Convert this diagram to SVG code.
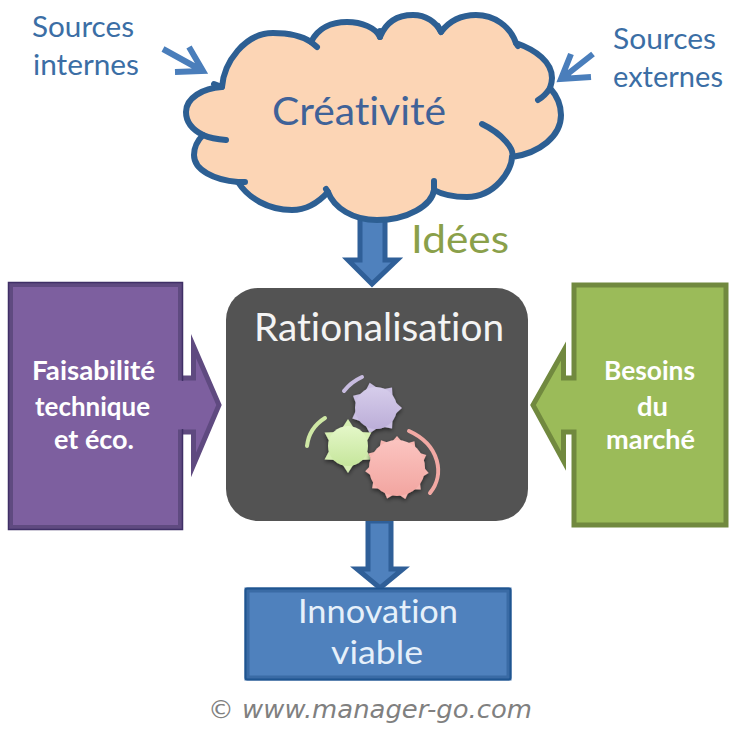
<svg xmlns="http://www.w3.org/2000/svg" xmlns:xlink="http://www.w3.org/1999/xlink" width="736" height="734" viewBox="0 0 736 734">
<style>
text{font-family:Lato,"Liberation Sans",sans-serif;text-anchor:start;font-variant-ligatures:none}
.src{font-size:28px;fill:#3b6ea5}
.side{font-size:27px;font-weight:700;fill:#fff}
.big{font-size:39px}
.inn{font-size:32px;fill:#e6f0fa}
.arr{fill:#4f81bd;stroke:#2f5f98;stroke-width:5;stroke-linejoin:miter}
.thin{fill:none;stroke:#4a7ebb;stroke-width:6}
.cl{fill:none;stroke:#2d5f93;stroke-width:6;stroke-linecap:round}
.arc{fill:none;stroke-width:4;stroke-linecap:round}
</style>
<defs>
<filter id="soft" x="-20%" y="-20%" width="140%" height="140%"><feGaussianBlur stdDeviation="0.6"/></filter>
<filter id="shadow" x="-20%" y="-20%" width="150%" height="150%"><feGaussianBlur in="SourceAlpha" stdDeviation="2"/><feOffset dy="2"/><feComponentTransfer><feFuncA type="linear" slope="0.55"/></feComponentTransfer><feMerge><feMergeNode/><feMergeNode in="SourceGraphic"/></feMerge></filter>
<linearGradient id="gp" x1="0" y1="0" x2="0" y2="1"><stop offset="0" stop-color="#d6cdeb"/><stop offset="1" stop-color="#bcaed8"/></linearGradient>
<linearGradient id="gg" x1="0" y1="0" x2="0" y2="1"><stop offset="0" stop-color="#e4f7c8"/><stop offset="1" stop-color="#c6e69c"/></linearGradient>
<linearGradient id="gr" x1="0" y1="0" x2="0" y2="1"><stop offset="0" stop-color="#fbc4c0"/><stop offset="1" stop-color="#f2a5a0"/></linearGradient>
<path id="tp" d="M-7 -18L0 -26L7 -18Z" fill="#cabfe2"/>
<path id="tg" d="M-7 -16L0 -27L7 -16Z" fill="#d6efb2"/>
<path id="tr" d="M-6 -25L0 -32L6 -25Z" fill="#f7b5b0"/>
</defs>

<g id="connectors">
<g id="arrow-idees"><path class="arr" d="M360 218H385V260H397L372 284L348 260H360Z"/></g>
<g id="arrow-innovation"><path class="arr" d="M368 521H391V569H403L380 588L357 569H368Z"/></g>
<g id="arrow-internes"><path class="thin" d="M163 49L201 70M189 47L203 71L175 72"/></g>
<g id="arrow-externes"><path class="thin" d="M593 54L565 76M571 54L561 79L591 77"/></g>
</g>

<g id="cloud">
<path d="M222 87C224 62 245 33 273 33C290 33 302 36 311 42C318 28 332 22 347 22C362 22 376 28 380 37C386 22 398 15 413 15C426 15 436 22 441 32C450 20 462 15 476 15C494 15 510 26 516 43C536 50 552 62 552 78C552 82 551 85 550 88C558 97 561 106 561 115C561 136 540 153 512 157C512 170 495 197 467 197C455 197 443 195 434 190C432 205 408 220 377 220C353 220 334 208 328 192C318 203 305 210 292 210C268 210 248 198 238 182C214 180 194 170 194 155C194 148 197 141 203 135C193 130 186 122 186 112C186 98 203 88 222 87Z" fill="#fcd5b5" stroke="#2d5f93" stroke-width="6" stroke-linejoin="round"/>
<path class="cl" d="M311 42L317 47M380 37V31M441 32L438 26M516 43L518 46M550 88Q545 96 538 100M482 124C503 134 515 150 512 157M203 135Q212 139 226 140M238 182L245 182M222 87L214 84M434 190L434 181M328 192L326 189"/>
<text class="big" x="272" y="125" fill="#3f6298" textLength="174" lengthAdjust="spacingAndGlyphs">Créativité</text>
</g>

<g id="label-internes"><text class="src" x="32" y="37" textLength="102" lengthAdjust="spacingAndGlyphs">Sources</text><text class="src" x="33" y="75" textLength="106" lengthAdjust="spacingAndGlyphs">internes</text></g>
<g id="label-externes"><text class="src" x="613" y="49" textLength="103" lengthAdjust="spacingAndGlyphs">Sources</text><text class="src" x="613" y="87" textLength="110" lengthAdjust="spacingAndGlyphs">externes</text></g>
<g id="label-idees"><text class="big" x="411" y="253" fill="#8aa04a" textLength="98" lengthAdjust="spacingAndGlyphs">Idées</text></g>

<g id="faisabilite">
<path d="M10.500 284.500H180.500V378H193.500V346L219 405L193.500 465V432H180.500V527.500H10.500Z" fill="#7d5f9f" stroke="#5f4a80" stroke-width="5" stroke-miterlimit="10"/>
<rect x="8.500" y="282.500" width="174" height="247" fill="none" stroke="#3f2f66" stroke-width="1.500"/>
<rect x="176" y="381" width="14" height="48" fill="#7d5f9f"/>
<text class="side" x="32" y="380" textLength="123" lengthAdjust="spacingAndGlyphs">Faisabilité</text>
<text class="side" x="35" y="416" textLength="115" lengthAdjust="spacingAndGlyphs">technique</text>
<text class="side" x="54" y="449" textLength="80" lengthAdjust="spacingAndGlyphs">et éco.</text>
</g>

<g id="besoins">
<path d="M574 285H726V525H574V432H563.500V461L533 405L563.500 351V378H574Z" fill="#9bbb59" stroke="#71893f" stroke-width="5" stroke-miterlimit="10"/>
<rect x="567" y="381" width="10" height="48" fill="#9bbb59"/>
<text class="side" x="604" y="380" textLength="91" lengthAdjust="spacingAndGlyphs">Besoins</text>
<text class="side" x="637" y="416" textLength="31" lengthAdjust="spacingAndGlyphs">du</text>
<text class="side" x="606" y="449" textLength="89" lengthAdjust="spacingAndGlyphs">marché</text>
</g>

<g id="rationalisation">
<rect x="226" y="288" width="302" height="233" rx="32" fill="#535353"/>
<text x="254" y="341" font-size="39" fill="#f4f4f4" textLength="250" lengthAdjust="spacingAndGlyphs">Rationalisation</text>
<g id="gears" filter="url(#soft)">
<path class="arc" stroke="#c8bce0" d="M344 391Q351 382 362 377"/>
<path class="arc" stroke="#cfe8a5" d="M307 446Q309 428 325 418"/>
<path class="arc" stroke="#f2a9a4" d="M409 431C440 445 445 475 430 493"/>
<g filter="url(#shadow)" transform="translate(376 408)">
<use xlink:href="#tp" href="#tp" transform="rotate(-14)"/><use xlink:href="#tp" href="#tp" transform="rotate(38)"/><use xlink:href="#tp" href="#tp" transform="rotate(90)"/><use xlink:href="#tp" href="#tp" transform="rotate(142)"/><use xlink:href="#tp" href="#tp" transform="rotate(194)"/><use xlink:href="#tp" href="#tp" transform="rotate(246)"/><use xlink:href="#tp" href="#tp" transform="rotate(298)"/>
<circle r="21" fill="url(#gp)"/>
</g>
<g filter="url(#shadow)" transform="translate(348 446)">
<use xlink:href="#tg" href="#tg"/><use xlink:href="#tg" href="#tg" transform="rotate(60)"/><use xlink:href="#tg" href="#tg" transform="rotate(120)"/><use xlink:href="#tg" href="#tg" transform="rotate(180)"/><use xlink:href="#tg" href="#tg" transform="rotate(240)"/><use xlink:href="#tg" href="#tg" transform="rotate(300)"/>
<circle r="20" fill="url(#gg)"/>
</g>
<g filter="url(#shadow)" transform="translate(397 468)">
<use xlink:href="#tr" href="#tr"/><use xlink:href="#tr" href="#tr" transform="rotate(33)"/><use xlink:href="#tr" href="#tr" transform="rotate(66)"/><use xlink:href="#tr" href="#tr" transform="rotate(99)"/><use xlink:href="#tr" href="#tr" transform="rotate(132)"/><use xlink:href="#tr" href="#tr" transform="rotate(165)"/><use xlink:href="#tr" href="#tr" transform="rotate(198)"/><use xlink:href="#tr" href="#tr" transform="rotate(231)"/><use xlink:href="#tr" href="#tr" transform="rotate(264)"/><use xlink:href="#tr" href="#tr" transform="rotate(297)"/><use xlink:href="#tr" href="#tr" transform="rotate(330)"/>
<circle r="28" fill="url(#gr)"/>
</g>
</g>
</g>

<g id="innovation">
<rect x="247" y="590" width="262" height="88" fill="#4f81bd" stroke="#3a6ba5" stroke-width="5"/>
<rect x="245.500" y="588.500" width="265" height="91" rx="2" fill="none" stroke="#1f5590" stroke-width="2"/>
<text class="inn" x="298" y="623" textLength="160" lengthAdjust="spacingAndGlyphs">Innovation</text>
<text class="inn" x="331" y="664" textLength="92" lengthAdjust="spacingAndGlyphs">viable</text>
</g>

<g id="copyright"><text x="208" y="718" font-size="25" font-style="italic" fill="#808080" style="font-family:'DejaVu Sans',sans-serif" textLength="324" lengthAdjust="spacingAndGlyphs">© www.manager-go.com</text></g>
</svg>
